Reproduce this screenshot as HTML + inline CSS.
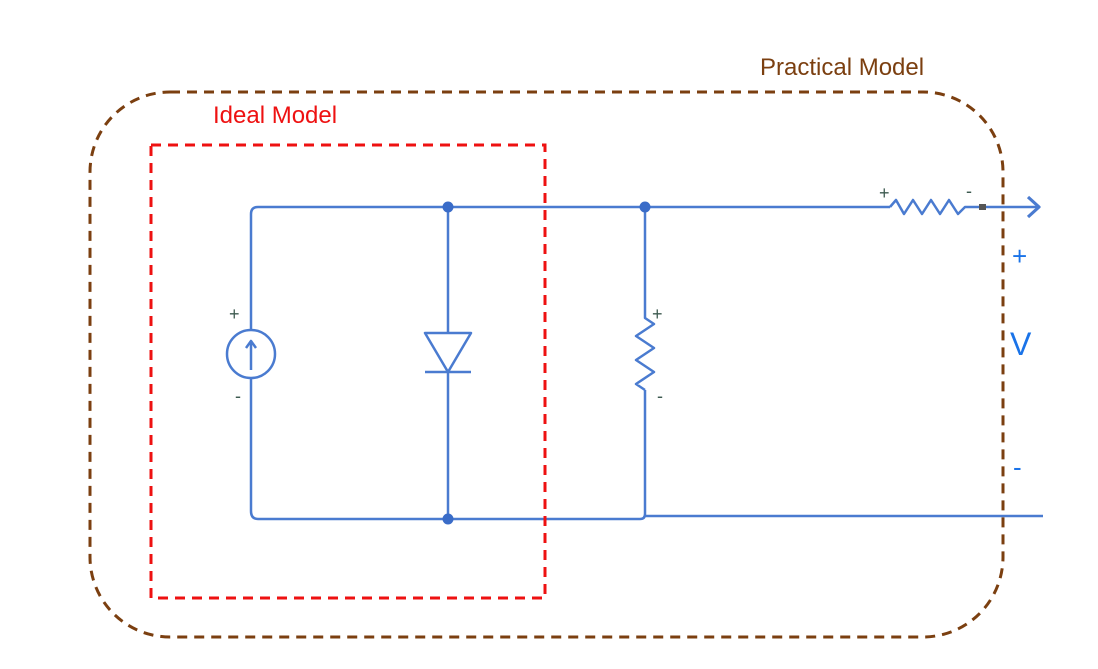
<!DOCTYPE html>
<html><head><meta charset="utf-8"><style>
html,body{margin:0;padding:0;background:#fff;}
svg{display:block;}
text{font-family:"Liberation Sans",sans-serif;}
</style></head><body>
<svg width="1098" height="669" viewBox="0 0 1098 669">
  <g fill="none" stroke="#4a7bd0" stroke-width="2.5" stroke-linejoin="round">
    <path d="M890 207 H258 Q251 207 251 214 V330"/>
    <path d="M251 378 V511 Q251 519 258 519 H640 Q645 519 645 514 V390"/>
    <path d="M645 516 H1043"/>
    <circle cx="251" cy="354" r="24"/>
    <path d="M251 370 V342 M246 348 L251 341 L256 348"/>
    <path d="M448 207 V333 M448 372 V519"/>
    <path d="M425 333 H471 L448 372 Z M425 372 H471"/>
    <path d="M645 207 V318 L654 324 L636 336 L654 348 L636 360 L654 372 L636 384 L645 390"/>
    <path d="M890 207 L896 200 L904 214 L913 200 L922 214 L931 200 L940 214 L949 200 L958 214 L965 207 H980"/>
    <path d="M986 207 H1038"/>
    <path d="M1028 197 L1039 207 L1028 217" stroke-width="3.2"/>
  </g>
  <rect x="979" y="204" width="7" height="6" fill="#555"/>
  <g fill="#3a6cc8">
    <circle cx="448" cy="207" r="5.5"/>
    <circle cx="645" cy="207" r="5.5"/>
    <circle cx="448" cy="519" r="5.5"/>
  </g>
  <g fill="#3d5a50" font-size="18">
    <text x="229" y="320">+</text>
    <text x="235" y="402">-</text>
    <text x="652" y="320">+</text>
    <text x="657" y="402">-</text>
    <text x="879" y="199">+</text>
    <text x="966" y="197">-</text>
  </g>
  <rect x="151" y="145" width="394" height="453" fill="none" stroke="#ee1111" stroke-width="3" stroke-dasharray="10 7"/>
  <rect x="90" y="92" width="913" height="545" rx="80" ry="80" fill="none" stroke="#7b3f10" stroke-width="3" stroke-dasharray="10 7"/>
  <text x="213" y="123" font-size="24" fill="#ee1111">Ideal Model</text>
  <text x="760" y="75" font-size="24" fill="#7b3f10">Practical Model</text>
  <g fill="#1a73e8">
    <text x="1012" y="265" font-size="26">+</text>
    <text x="1010" y="355" font-size="32">V</text>
    <text x="1013" y="476" font-size="26">-</text>
  </g>
</svg>
</body></html>
